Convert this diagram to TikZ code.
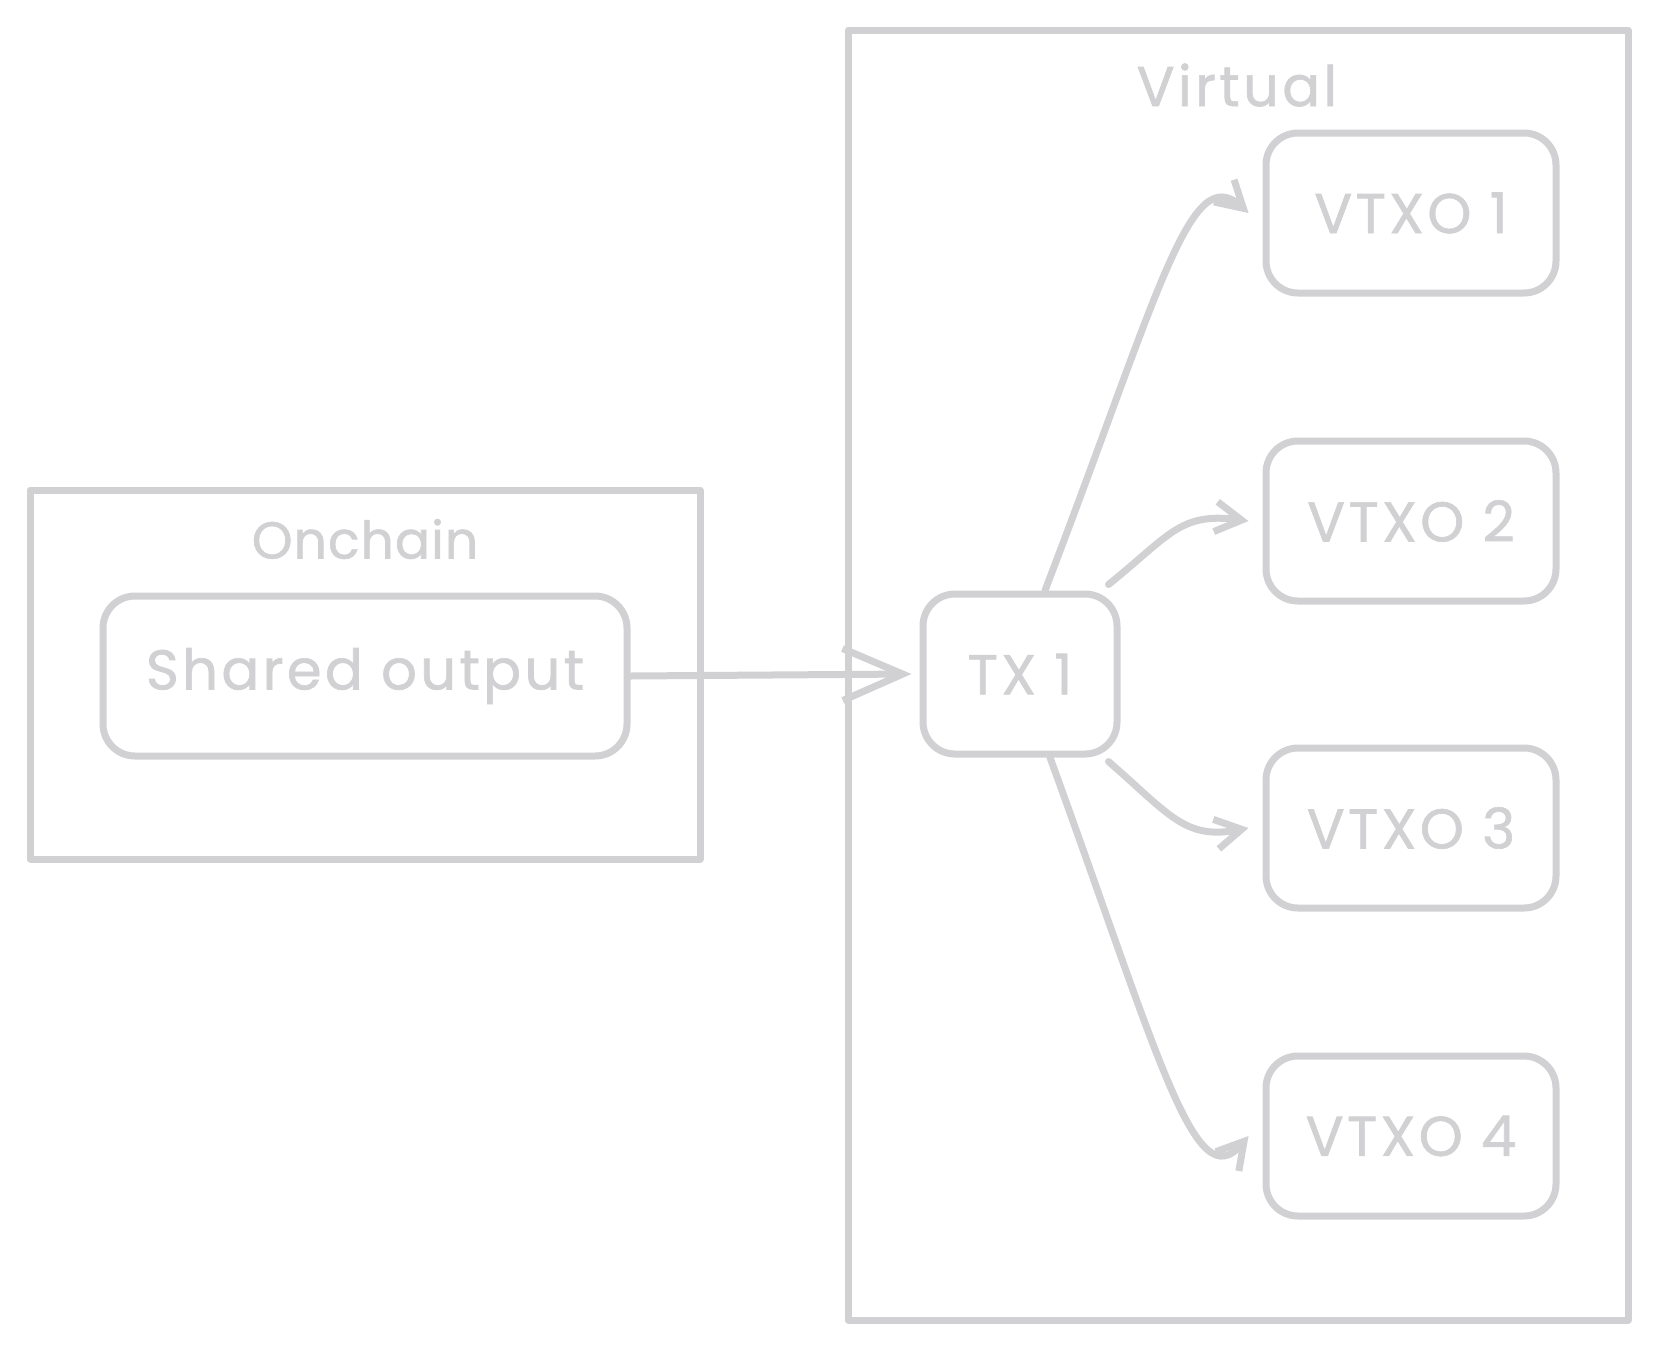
\documentclass[tikz,border=0pt]{standalone}
\usepackage{fontspec}
\setmainfont{Poppins}
\usetikzlibrary{arrows.meta}
\definecolor{sk}{RGB}{209,208,211}
\tikzset{
  frame/.style={draw=sk, line width=7pt, line join=round},
  txtfont/.style={font=\fontsize{56}{66}\selectfont\addfontfeature{LetterSpace=6,FakeBold=1.2}},
  rbox/.style={draw=sk, line width=7pt, rounded corners=32pt, minimum width=#1, minimum height=160pt, text=sk, txtfont, inner sep=0pt},
  lbl/.style={text=sk, txtfont, inner sep=0pt},
  conn/.style={draw=sk, line width=7pt, line cap=round, -{Straight Barb[length=26pt, width=30pt, line width=7pt]}},
  bigconn/.style={draw=sk, line width=7pt, line cap=round, -{Straight Barb[length=60pt, width=52pt, line width=7pt]}}
}
\begin{document}
\begin{tikzpicture}[x=1pt,y=-1pt]
\useasboundingbox (0,0) rectangle (1658,1350);
% outer frames
\draw[frame] (30,490) rectangle (700,859);
\node[lbl, font=\fontsize{52}{62}\selectfont\addfontfeature{LetterSpace=2,FakeBold=1.2}] (onl) at (365,539) {Onchain};
\draw[frame] (848,30) rectangle (1628,1320);
\node[lbl] (vl) at (1237,85) {Virtual};
% nodes
\node[rbox=524pt] (so) at (365,676) {Shared output};
\node[rbox=194pt] (tx) at (1020,674) {TX 1};
\node[rbox=290pt] (v1) at (1411,213) {VTXO 1};
\node[rbox=290pt] (v2) at (1411,521) {VTXO 2};
\node[rbox=290pt] (v3) at (1411,828) {VTXO 3};
\node[rbox=290pt] (v4) at (1411,1136) {VTXO 4};
% connectors
\draw[bigconn] (so.east) -- ([xshift=-8pt]tx.west);
\draw[conn] ([xshift=25pt]tx.north) .. controls (1160,290) and (1190,160) .. ([xshift=-14pt]v1.west);
\draw[conn] ([xshift=-12pt,yshift=6pt]tx.north east) .. controls (1170,535) and (1180,512) .. ([xshift=-14pt]v2.west);
\draw[conn] ([xshift=-12pt,yshift=-4pt]tx.south east) .. controls (1170,815) and (1185,840) .. ([xshift=-14pt]v3.west);
\draw[conn] ([xshift=30pt]tx.south) .. controls (1160,1060) and (1195,1200) .. ([xshift=-14pt]v4.west);
\end{tikzpicture}
\end{document}
